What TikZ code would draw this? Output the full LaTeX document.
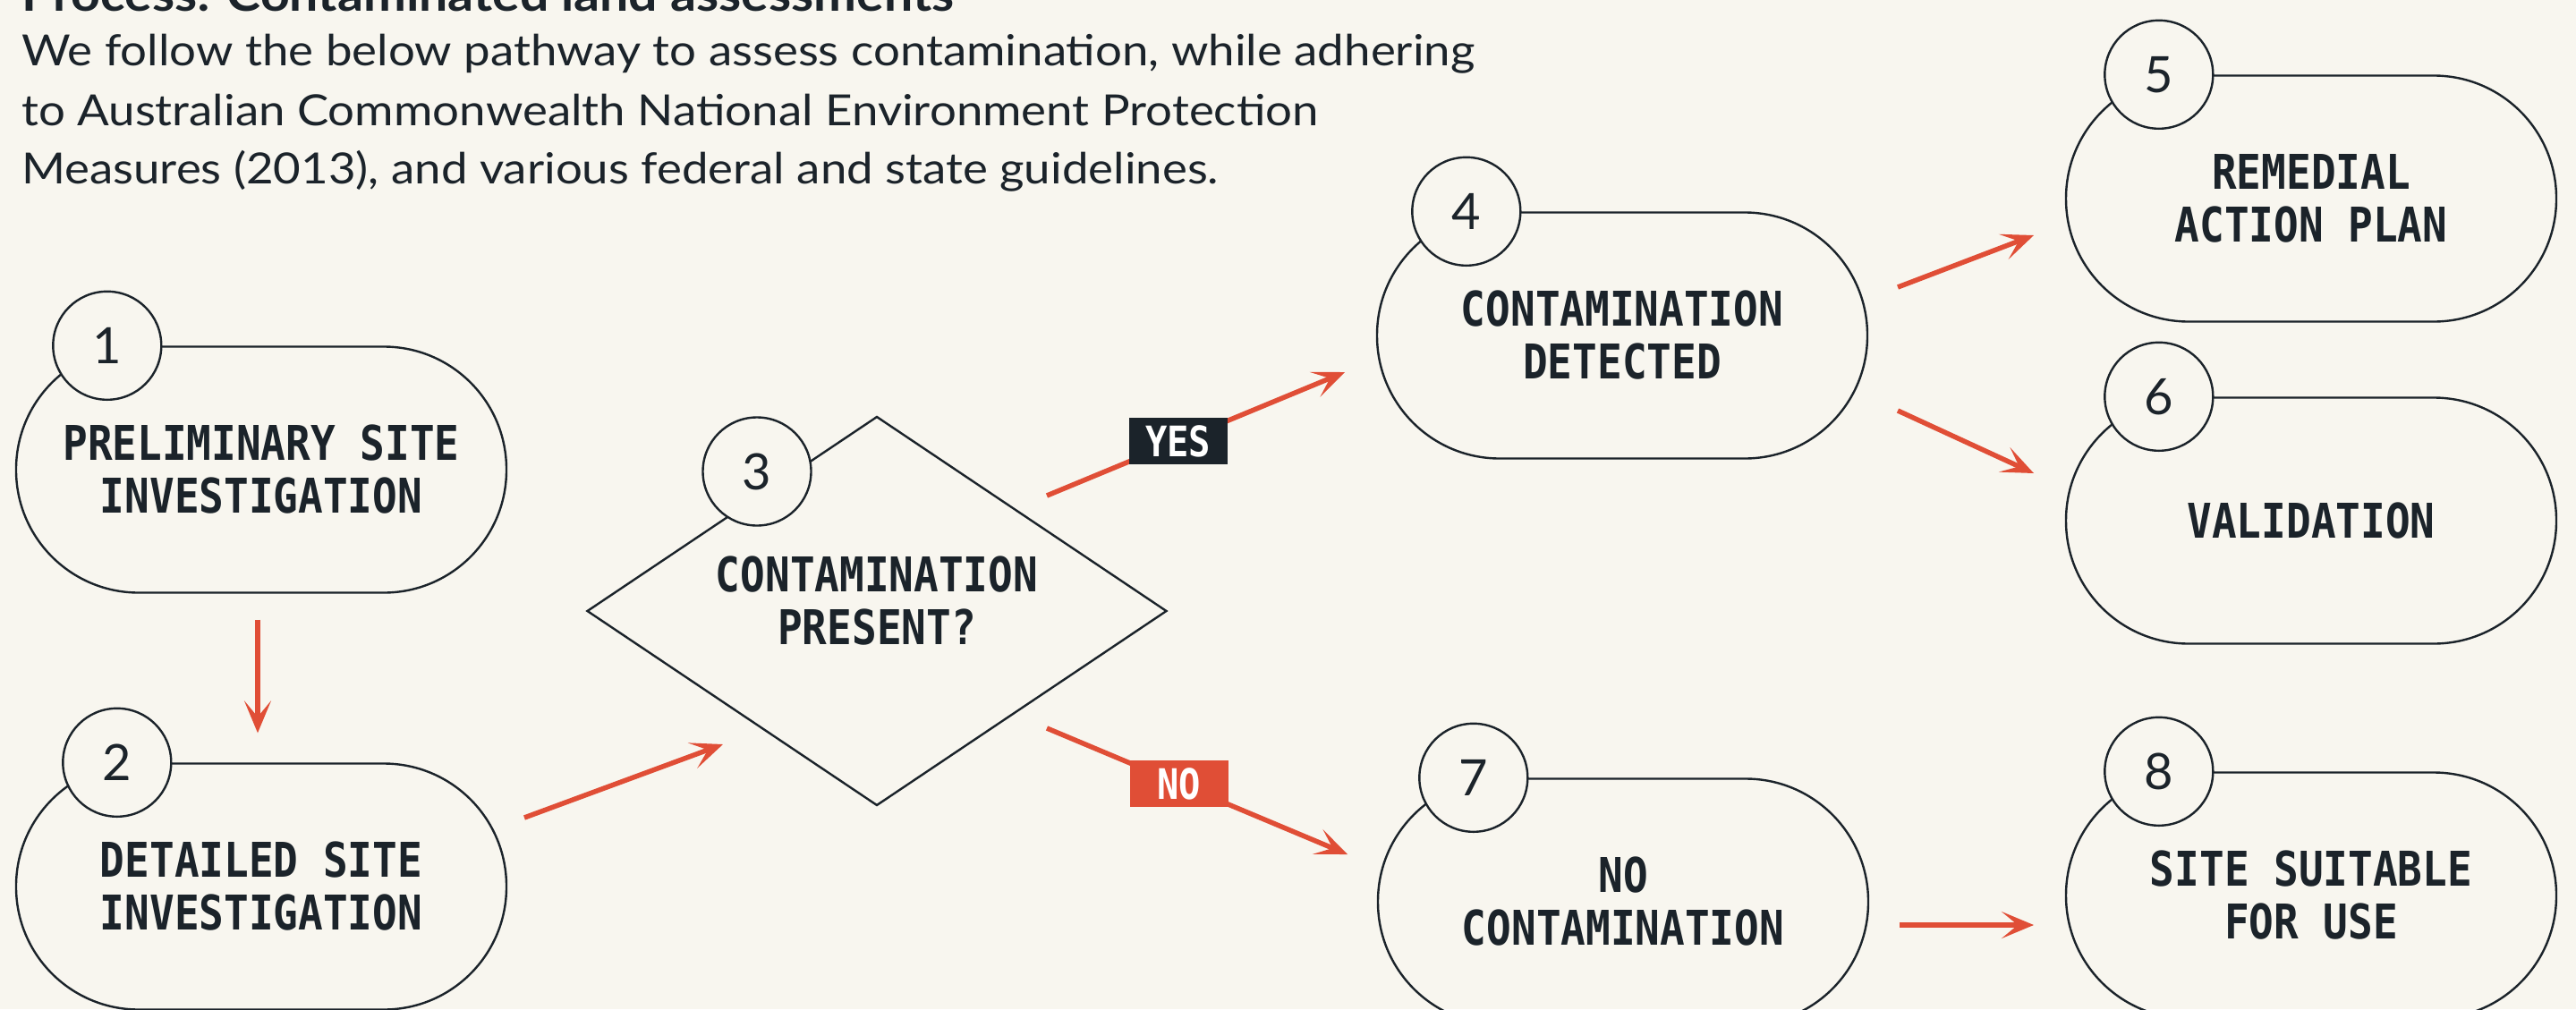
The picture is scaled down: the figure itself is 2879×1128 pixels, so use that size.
\documentclass[tikz,border=0pt]{standalone}
\usepackage{fontspec}
\setmainfont{Lato}
\newfontfamily\parafam[FakeStretch=1.1]{Lato}
\newfontfamily\monof[FakeStretch=0.86]{DejaVu Sans Mono}
\usetikzlibrary{arrows.meta,shapes.geometric}
\definecolor{bg}{HTML}{F8F6EF}
\definecolor{ink}{HTML}{1B232A}
\definecolor{redc}{HTML}{E04E36}
\newcommand\stagefont{\monof\bfseries\fontsize{53.5}{59}\selectfont}
\newcommand\labfont{\monof\bfseries\fontsize{47}{52}\selectfont}
\newcommand\numfont{\fontsize{56}{60}\selectfont}
\newcommand\parafont{\parafam\fontsize{48}{66}\selectfont}
\newcommand\titlefont{\parafam\bfseries\fontsize{52}{60}\selectfont}
\begin{document}
\begin{tikzpicture}[x=1pt,y=-1pt,
  stage/.style={draw=ink, line width=2.4pt, rounded corners=137pt, minimum width=548pt, minimum height=275pt, align=center, font=\stagefont, text=ink, inner sep=0pt},
  decision/.style={diamond, draw=ink, line width=2.4pt, minimum width=648pt, minimum height=435pt, inner sep=0pt},
  stagetext/.style={align=center, font=\stagefont, text=ink, inner sep=0pt},
  numc/.style={circle, draw=ink, line width=2.4pt, fill=bg, minimum size=121pt, inner sep=0pt, font=\numfont, text=ink},
  arr/.style={draw=redc, line width=5.5pt, -{Stealth[length=36pt,width=30pt,inset=18pt]}},
  tag/.style={minimum width=110pt, minimum height=52pt, inner sep=0pt, text=white, font=\labfont},
  para/.style={anchor=base west, inner sep=0pt, text=ink, font=\parafont}]
\fill[bg] (0,0) rectangle (2879,1128);
\useasboundingbox (0,0) rectangle (2879,1128);

\node[para, font=\titlefont] (title) at (24,12) {Process: Contaminated land assessments};
\node[para] (p1) at (24,73) {We follow the below pathway to assess contamination, while adhering};
\node[para] (p2) at (24,140) {to Australian Commonwealth National Environment Protection};
\node[para] (p3) at (24,205) {Measures (2013), and various federal and state guidelines.};

\node[stage] (n1) at (292,525) {PRELIMINARY SITE\\INVESTIGATION};
\node[stage] (n2) at (292,991) {DETAILED SITE\\INVESTIGATION};
\node[decision] (n3) at (980,683) {};
\node[stagetext] (t3) at (980,672) {CONTAMINATION\\PRESENT?};
\node[stage] (n4) at (1813,375) {CONTAMINATION\\DETECTED};
\node[stage] (n5) at (2583,222) {REMEDIAL\\ACTION PLAN};
\node[stage] (n6) at (2583,582) {VALIDATION};
\node[stage] (n7) at (1814,1008) {NO\\CONTAMINATION};
\node[stage] (n8) at (2583,1001) {SITE SUITABLE\\FOR USE};

\node[numc] (c1) at ([xshift=103pt]n1.north west) {1};
\node[numc] (c2) at ([xshift=114pt]n2.north west) {2};
\node[numc] (c3) at (846,527) {3};
\node[numc] (c4) at ([xshift=101pt]n4.north west) {4};
\node[numc] (c5) at ([xshift=105pt]n5.north west) {5};
\node[numc] (c6) at ([xshift=105pt]n6.north west) {6};
\node[numc] (c7) at ([xshift=108pt]n7.north west) {7};
\node[numc] (c8) at ([xshift=105pt]n8.north west) {8};

\draw[arr] ([shift={(-4,29)}]n1.south) -- ([shift={(-4,-33)}]n2.north);
\draw[arr] ([shift={(294,-77)}]n2.center) -- ([shift={(-172,149)}]n3.center);
\draw[arr] ([shift={(190,-129)}]n3.center) -- node[tag, fill=ink, pos=0.44] (yes) {YES} ([shift={(-310,41)}]n4.center);
\draw[arr] ([shift={(190,131)}]n3.center) -- node[tag, fill=redc, pos=0.44] (no) {NO} ([shift={(-308,-53)}]n7.center);
\draw[arr] ([shift={(308,-54)}]n4.center) -- ([shift={(-310,41)}]n5.center);
\draw[arr] ([shift={(308,84)}]n4.center) -- ([shift={(-310,-53)}]n6.center);
\draw[arr] ([shift={(309,26)}]n7.center) -- ([shift={(-310,33)}]n8.center);
\end{tikzpicture}
\end{document}
